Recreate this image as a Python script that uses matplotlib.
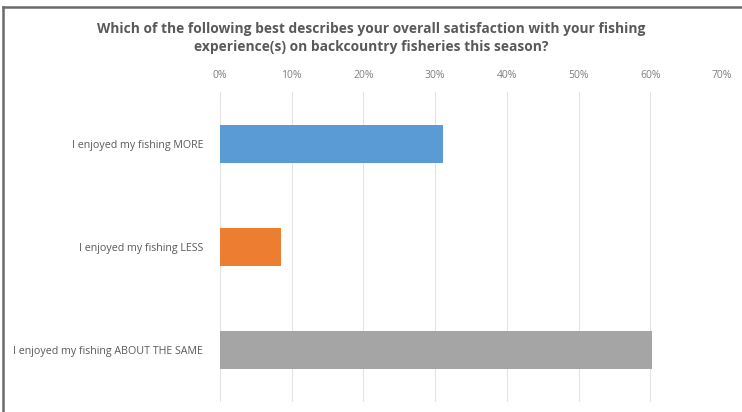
import matplotlib
matplotlib.use("Agg")
import matplotlib.pyplot as plt
from matplotlib.lines import Line2D

categories = ["I enjoyed my fishing MORE", "I enjoyed my fishing LESS",
              "I enjoyed my fishing ABOUT THE SAME"]
values = [31.1, 8.5, 60.3]
colors = ["#5b9bd5", "#ed7d31", "#a5a5a5"]
ticks = [0, 10, 20, 30, 40, 50, 60, 70]
tick_labels = [f"{t}%" for t in ticks]
title = ("Which of the following best describes your overall satisfaction with your fishing\n"
         "experience(s) on backcountry fisheries this season?")

plt.rcParams['font.family'] = ['Open Sans', 'DejaVu Sans']

fig = plt.figure(figsize=(7.42, 4.12), dpi=100)
ax = fig.add_axes([220/742, 1-402/412, (722-220)/742, (402-92)/412])

y = list(range(len(categories)))
ax.barh(y, values, height=0.37, color=colors, zorder=3)
ax.set_ylim(2.5, -0.5)
ax.set_xlim(0, 70)
ax.set_xticks(ticks)
ax.set_xticklabels(tick_labels, fontsize=7.5, color="#7f7f7f")
ax.xaxis.tick_top()
ax.tick_params(axis='x', length=0, pad=8)
ax.set_yticks(y)
ax.set_yticklabels(categories, fontsize=7.7, color="#595959")
ax.tick_params(axis='y', length=0, pad=12)
ax.grid(axis='x', color="#e3e3e3", linewidth=0.8, zorder=0)
for s in ax.spines.values():
    s.set_visible(False)

fig.text(0.5, 1-38/412, title, ha='center', va='center', fontsize=9.9,
         fontweight='bold', color="#595959", linespacing=1.45)

# frame lines (left and top)
fig.add_artist(Line2D([3/742, 3/742], [0, 1-7/412], color="#6e6a6a", linewidth=1.8,
                      transform=fig.transFigure))
fig.add_artist(Line2D([3/742, 1], [1-7/412, 1-7/412], color="#6e6a6a", linewidth=1.8,
                      transform=fig.transFigure))

fig.savefig("out.png", dpi=100)
